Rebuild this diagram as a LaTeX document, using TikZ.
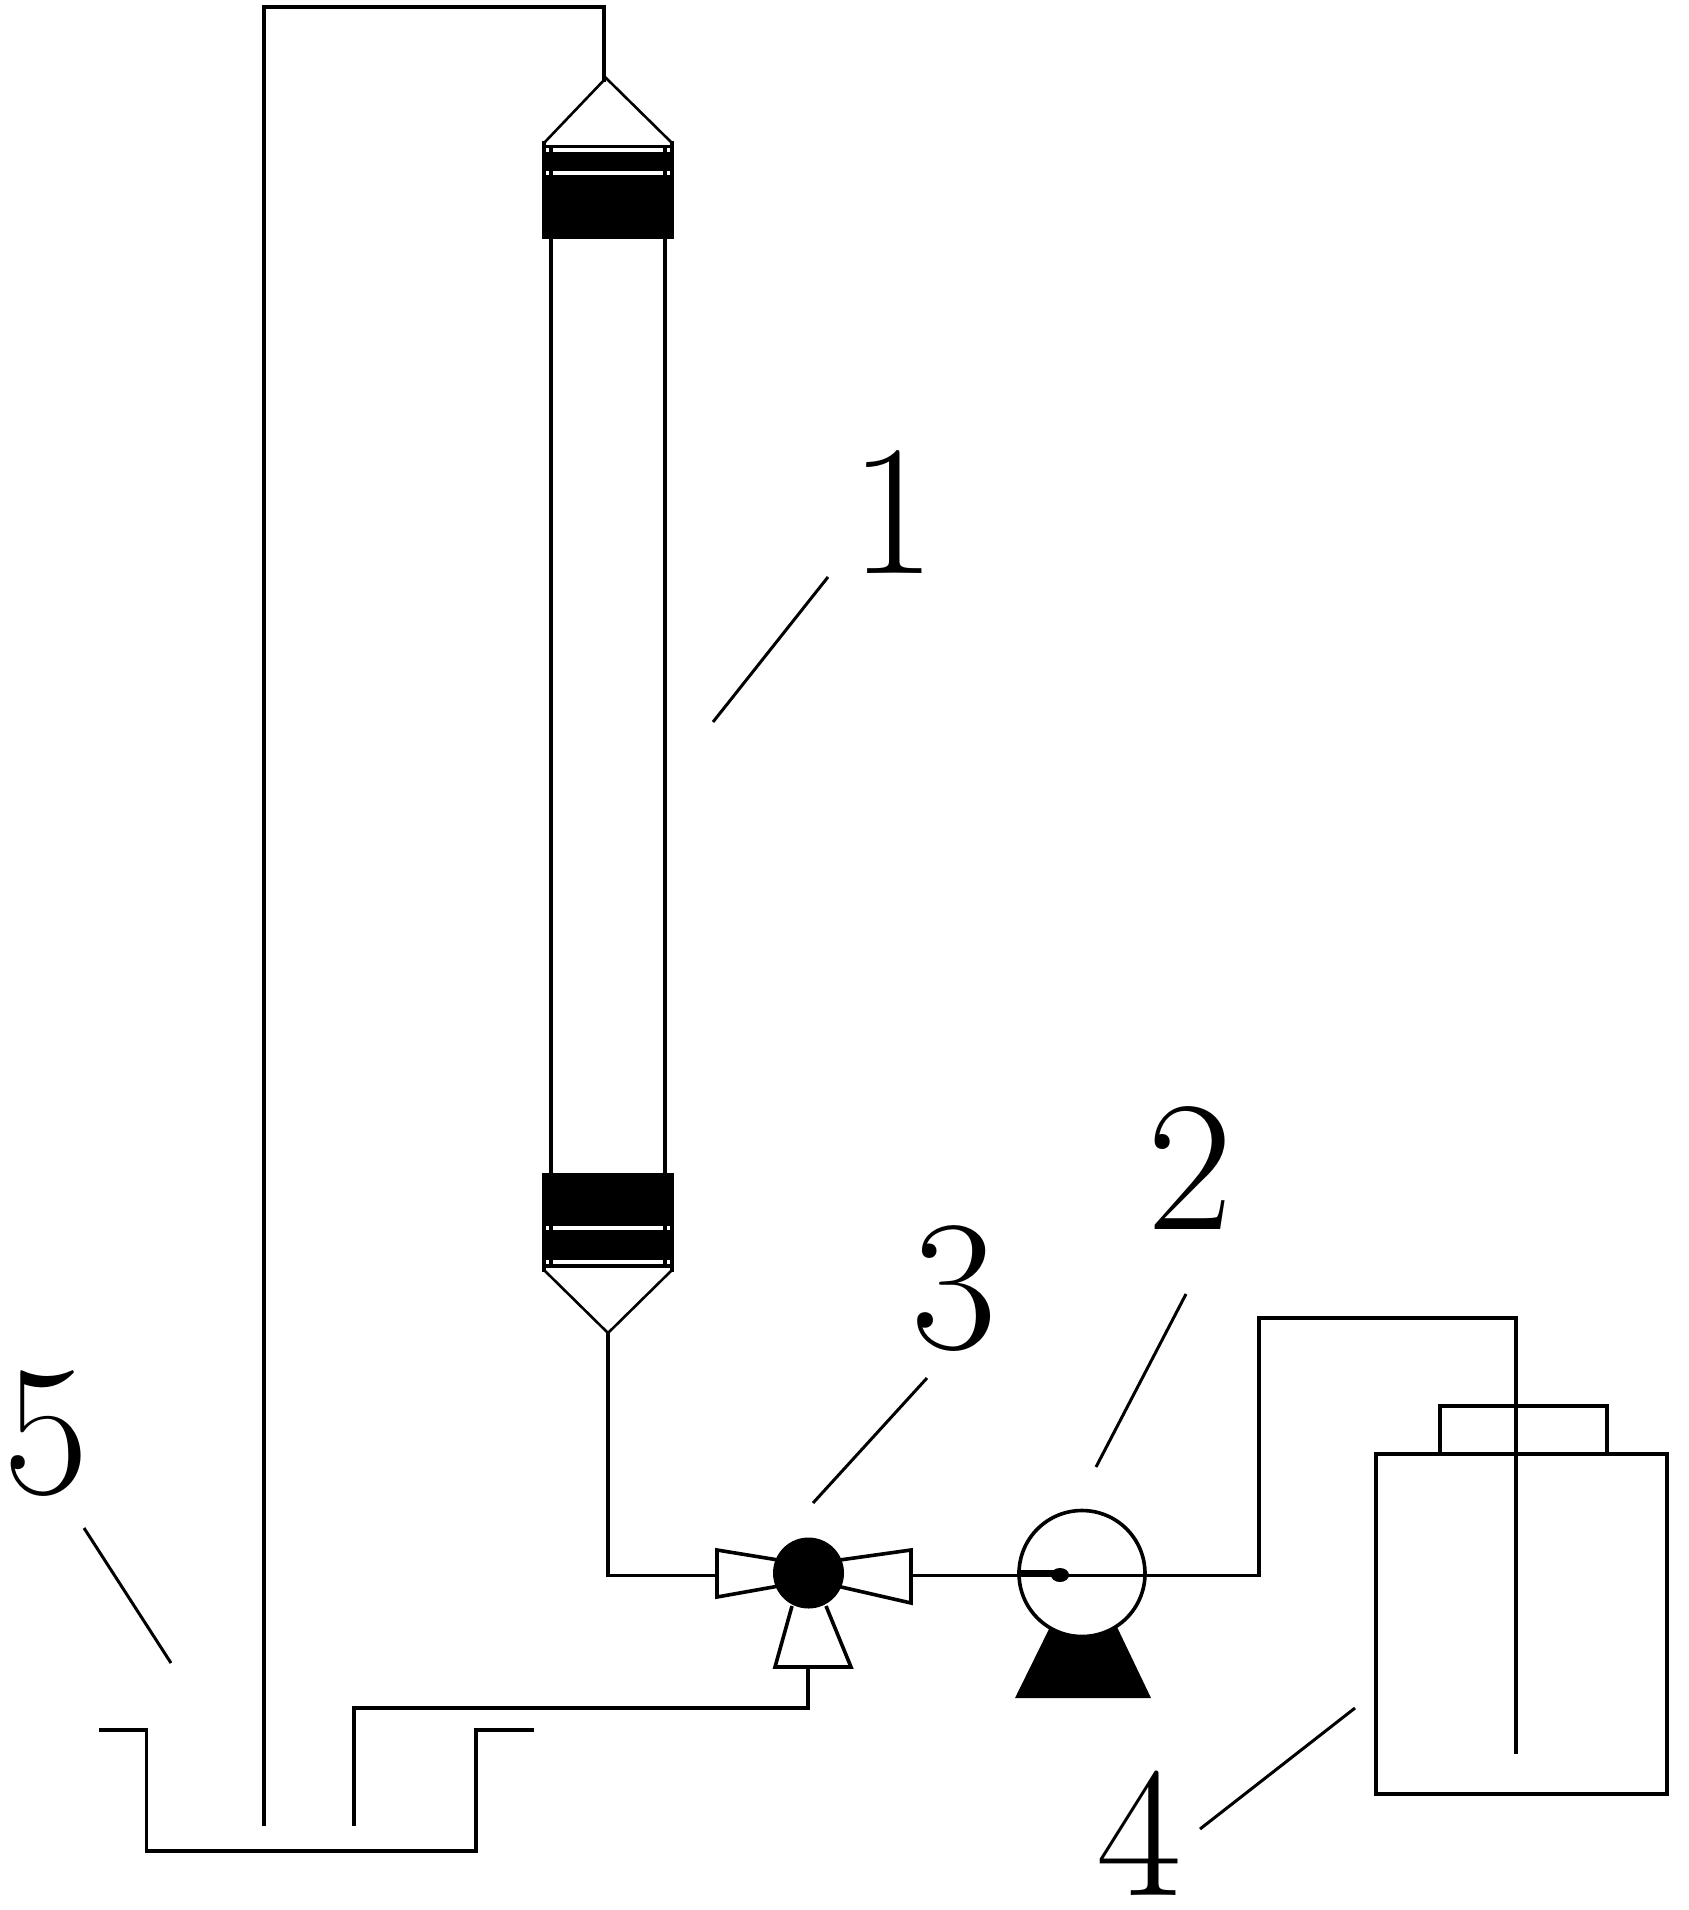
\documentclass[tikz,border=0pt]{standalone}
\usetikzlibrary{calc}
\tikzset{
  pipe/.style={draw=black,line width=3.6pt,line join=miter},
  thin pipe/.style={draw=black,line width=2.6pt,line join=miter},
  leader/.style={draw=black,line width=3pt},
  digit/.style={inner sep=0pt,font=\fontsize{186}{186}\selectfont},
  ink/.style={fill=black,draw=none},
  gap/.style={fill=white,draw=none}
}
\begin{document}
\begin{tikzpicture}[x=1pt,y=-1pt]
\useasboundingbox[fill=white] (0,0) rectangle (1688,1910);
% column: blocks, caps, tube
\fill[ink] (542,145) rectangle (674,239);
\fill[ink] (542,141) rectangle (546,146);
\fill[ink] (670,141) rectangle (674,146);
\fill[gap] (546,148) rectangle (670,152);
\fill[gap] (546,171) rectangle (670,175);
\fill[ink] (542,1173) rectangle (674,1268);
\fill[ink] (542,1268) rectangle (546,1272);
\fill[ink] (670,1268) rectangle (674,1272);
\fill[gap] (546,1226) rectangle (670,1230);
\fill[gap] (546,1260) rectangle (670,1264);
\coordinate (tubeTL) at (551,148);
\coordinate (tubeBL) at (551,1264);
\coordinate (tubeTR) at (665,148);
\coordinate (tubeBR) at (665,1264);
\draw[pipe] (tubeTL) -- (tubeBL);
\draw[pipe] (tubeTR) -- (tubeBR);
\coordinate (apexT) at (606,78);
\coordinate (apexB) at (608,1333);
\draw[thin pipe] (544,143) -- (apexT) -- (672,143);
\draw[thin pipe] (544,1270) -- (apexB) -- (672,1270);
% valve
\node[circle,fill=black,minimum size=71pt,inner sep=0pt] (ball) at (808.5,1573) {};
\draw[pipe] (ball.center) ++(-24,-12) -- (717,1550) -- (717,1597) -- ($(ball.center)+(-24,12)$);
\draw[pipe] (ball.center) ++(24,-12) -- (911,1550) -- (911,1603) -- ($(ball.center)+(24,12)$);
\draw[pipe] (792,1606) -- (775,1667) -- (851,1667) -- (826,1606);
\coordinate (valveL) at (717,1575.5);
\coordinate (valveR) at (911,1575.5);
\coordinate (valveB) at (808,1667);
% pump
\fill[ink] (1015,1698) -- (1050,1627) -- (1117,1627) -- (1151,1698) -- cycle;
\node[circle,draw=black,fill=white,line width=3.6pt,minimum size=126pt,inner sep=0pt] (pump) at (1082,1573.5) {};
\fill[ink] (1060,1575) ellipse (9pt and 7pt);
\draw[line width=5pt] (pump.west) ++(0,-1) -- (1060,1572.5);
% bottle
\node[draw=black,line width=3.6pt,minimum width=291pt,minimum height=340pt,inner sep=0pt] (bottle) at (1521.5,1624) {};
\coordinate (capL) at (1440,1454);
\coordinate (capR) at (1607,1454);
\draw[pipe] (capL) -- (1440,1406) -- (1607,1406) -- (capR);
% pipes
\coordinate (basinIn) at (264,1826);
\coordinate (basinOut) at (354,1826);
\coordinate (bottleEnd) at (1516,1754);
\coordinate (riserTop) at (1259,1318);
\draw[pipe] (basinIn) -- (264,7) -- (604,7) -- (604,82);
\draw[pipe] (apexB) -- (608,1575.5) -- (valveL);
\draw[pipe] (valveR) -- (1259,1575.5) -- (riserTop) -- (1516,1318) -- (bottleEnd);
\draw[pipe] (valveB) -- (808,1708) -- (354,1708) -- (basinOut);
% basin
\coordinate (basinA) at (99,1730);
\coordinate (basinB) at (534,1730);
\draw[pipe] (basinA) -- (146.5,1730) -- (146.5,1851) -- (476,1851) -- (476,1730) -- (basinB);
% labels and leaders
\node[digit] (n1) at (893,512) {1};
\node[digit] (n2) at (1190,1168) {2};
\node[digit] (n3) at (954,1288) {3};
\node[digit] (n4) at (1139,1833) {4};
\node[digit] (n5) at (46,1434) {5};
\coordinate (l1a) at (828,577); \coordinate (l1b) at (713,722);
\coordinate (l2a) at (1186,1294); \coordinate (l2b) at (1096,1467);
\coordinate (l3a) at (927,1378); \coordinate (l3b) at (813,1503);
\coordinate (l4a) at (1355,1708); \coordinate (l4b) at (1200,1829);
\coordinate (l5a) at (84,1528); \coordinate (l5b) at (171,1663);
\draw[leader] (l1a) -- (l1b);
\draw[leader] (l2a) -- (l2b);
\draw[leader] (l3a) -- (l3b);
\draw[leader] (l4a) -- (l4b);
\draw[leader] (l5a) -- (l5b);
\end{tikzpicture}
\end{document}
